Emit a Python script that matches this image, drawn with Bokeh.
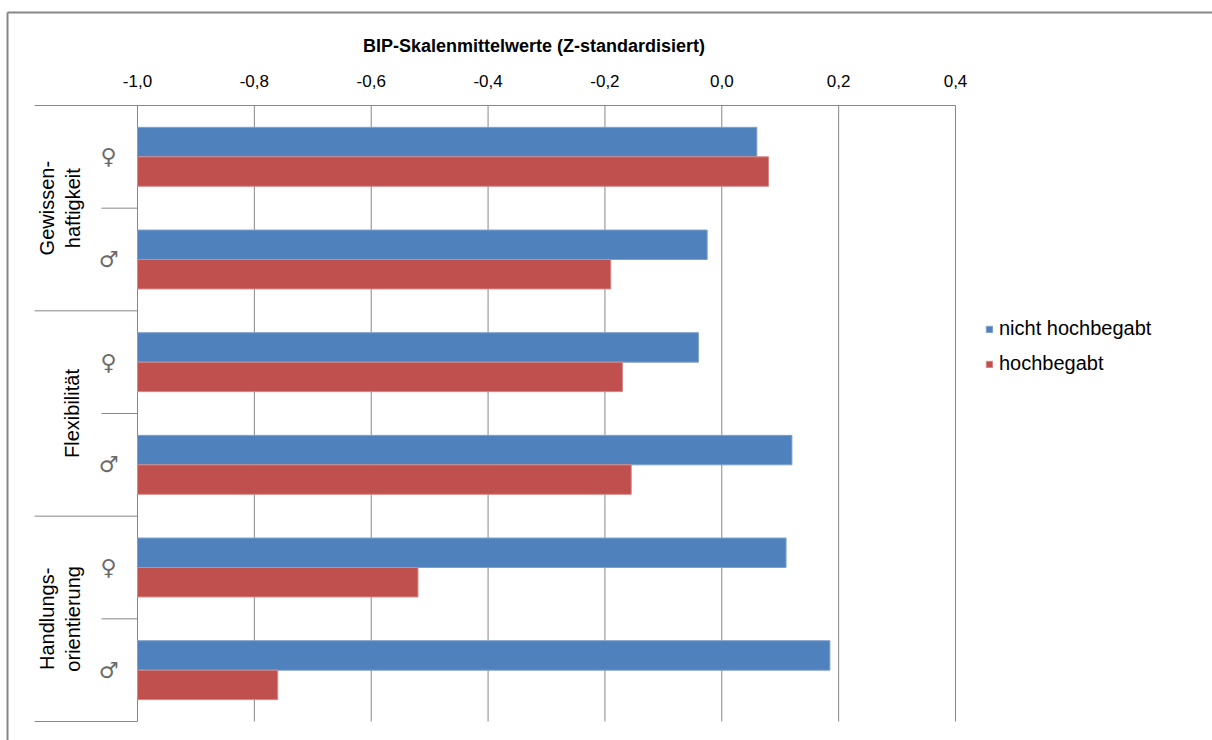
import math
from bokeh.plotting import figure
from bokeh.models import Range1d, Legend, LegendItem, ColumnDataSource
from bokeh.core.properties import value
from bokeh.embed import file_html
from bokeh.resources import INLINE

# ---- data ----
groups = ["Gewissen-\nhaftigkeit", "Flexibilität", "Handlungs-\norientierung"]
sexes = ["♀", "♂"]
series_names = ["nicht hochbegabt", "hochbegabt"]
nicht_hochbegabt = [0.06, -0.025, -0.04, 0.12, 0.11, 0.185]
hochbegabt = [0.08, -0.19, -0.17, -0.155, -0.52, -0.76]
x_ticks = [-1.0, -0.8, -0.6, -0.4, -0.2, 0.0, 0.2, 0.4]
x_tick_labels = ["-1,0", "-0,8", "-0,6", "-0,4", "-0,2", "0,0", "0,2", "0,4"]
title_text = "BIP-Skalenmittelwerte  (Z-standardisiert)"

BLUE = "#4F81BD"
RED = "#C0504D"
GRAY = "#878787"
FONT = "Liberation Sans"

W, H = 1212, 740
FL, FR, FT, FB = 137, 955, 105, 721  # plotting area in pixels
XMIN, XMAX = -1.0, 0.4
n_rows = len(nicht_hochbegabt)

px_per_x = (FR - FL) / (XMAX - XMIN)
px_per_y = (FB - FT) / n_rows
def dx(px):
    return XMIN + (px - FL) / px_per_x
def dy(py):
    return (FB - py) / px_per_y

p = figure(width=W, height=H, output_backend="svg", toolbar_location=None,
           x_range=Range1d(dx(0), dx(W)), y_range=Range1d(dy(H), dy(0)),
           x_axis_location=None, y_axis_location=None,
           min_border=0, min_border_left=0, min_border_right=0,
           min_border_top=0, min_border_bottom=0)
p.outline_line_color = None
p.grid.visible = False
p.background_fill_color = "white"
p.border_fill_color = "white"

# vertical grid lines (incl. value axis at -1,0)
p.segment(x0=x_ticks, y0=[0] * len(x_ticks), x1=x_ticks, y1=[n_rows] * len(x_ticks),
          line_color=GRAY, line_width=1)
# top value axis line
p.segment(x0=[XMIN], y0=[n_rows], x1=[XMAX], y1=[n_rows], line_color=GRAY, line_width=1)

# category separators
major_b = list(range(0, n_rows + 1, 2))
minor_b = list(range(1, n_rows, 2))
p.segment(x0=[dx(34)] * len(major_b), y0=major_b, x1=[XMIN] * len(major_b), y1=major_b,
          line_color=GRAY, line_width=1)
p.segment(x0=[dx(101)] * len(minor_b), y0=minor_b, x1=[XMIN] * len(minor_b), y1=minor_b,
          line_color=GRAY, line_width=1)

# bars
centers = [n_rows - i - 0.5 for i in range(n_rows)]
bh = 0.287
src = ColumnDataSource(dict(
    yb=[c + bh / 2 for c in centers],
    yr=[c - bh / 2 for c in centers],
    nh=nicht_hochbegabt, hb=hochbegabt,
    left=[XMIN] * n_rows))
r_blue = p.hbar(y="yb", left="left", right="nh", height=bh, source=src,
                fill_color=BLUE, line_color="#7E9FCB", line_width=1)
r_red = p.hbar(y="yr", left="left", right="hb", height=bh, source=src,
               fill_color=RED, line_color="#D48A88", line_width=1)

# tick labels
p.text(x=x_ticks, y=[dy(80)] * len(x_ticks), text=x_tick_labels,
       text_align="center", text_baseline="middle",
       text_font=value(FONT), text_font_size="17px", text_color="black")
# title
p.text(x=[dx(536)], y=[dy(45)], text=[title_text],
       text_align="center", text_baseline="middle",
       text_font=value(FONT), text_font_size="18px", text_font_style="bold",
       text_color="black")

# group labels (rotated)
group_centers = [n_rows - 1 - 2 * i for i in range(len(groups))]
gx, gy, gt = [], [], []
for g, gc in zip(groups, group_centers):
    lines = g.split("\n")
    xs = [46, 72] if len(lines) == 2 else [71]
    for ln, xp in zip(lines, xs):
        gx.append(dx(xp)); gy.append(gc); gt.append(ln)
p.text(x=gx, y=gy, text=gt, angle=math.pi / 2,
       text_align="center", text_baseline="middle",
       text_font=value(FONT), text_font_size="20px", text_color="black")

# sex symbols
p.text(x=[dx(108)] * n_rows, y=centers, text=[sexes[i % 2] for i in range(n_rows)],
       text_align="center", text_baseline="middle",
       text_font=value("DejaVu Sans"), text_font_size="22px", text_color="#6a6a6a")

# outer border (clipped by window on right/bottom)
p.segment(x0=[dx(7), dx(7)], y0=[dy(H + 10), dy(12)], x1=[dx(7), dx(W + 10)],
          y1=[dy(12), dy(12)], line_color=GRAY, line_width=2)

# legend
legend = Legend(items=[LegendItem(label=series_names[0], renderers=[r_blue]),
                       LegendItem(label=series_names[1], renderers=[r_red])],
                location=(985, H - 375),
                glyph_width=8, glyph_height=8, label_standoff=6,
                label_text_font=FONT, label_text_font_size="20px",
                label_text_color="black", label_height=20,
                spacing=12, padding=0, margin=0,
                border_line_alpha=0, background_fill_alpha=0)
p.add_layout(legend, "center")

open("out.html", "w").write(file_html(p, INLINE))
